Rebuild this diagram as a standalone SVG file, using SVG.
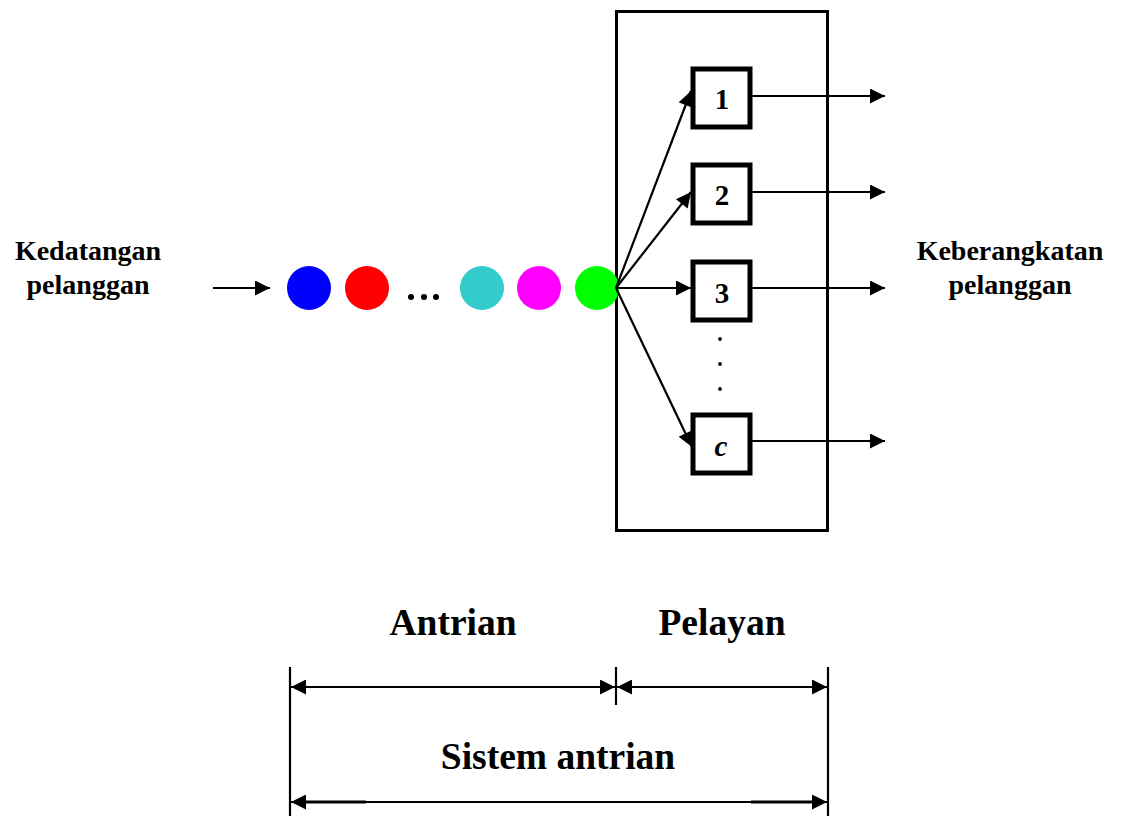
<svg xmlns="http://www.w3.org/2000/svg" width="1125" height="816" viewBox="0 0 1125 816">
<defs>
<marker id="ah" viewBox="0 0 10 10" refX="10" refY="5" markerWidth="17" markerHeight="15" markerUnits="userSpaceOnUse" orient="auto-start-reverse"><path d="M0,0 L10,5 L0,10 z" fill="#000"/></marker>
</defs>
<style>
.t{font-family:"Liberation Serif","Times New Roman",serif;font-weight:bold;fill:#000}
.lbl{font-size:28px}
.big{font-size:37.5px}
.num{font-size:29px}
.srv{fill:#fff;stroke:#000;stroke-width:5}
.ln{stroke:#000;stroke-width:2.2;fill:none}
</style>
<rect x="0" y="0" width="1125" height="816" fill="#fff"/>
<g id="system-box"><rect x="616.5" y="11.5" width="211" height="519" fill="none" stroke="#000" stroke-width="3"/></g>
<g id="arrival-label"><text class="t lbl" x="88" y="260" text-anchor="middle">Kedatangan</text><text class="t lbl" x="88" y="294" text-anchor="middle">pelanggan</text></g>
<g id="departure-label"><text class="t lbl" x="1010" y="260" text-anchor="middle">Keberangkatan</text><text class="t lbl" x="1010" y="294" text-anchor="middle">pelanggan</text></g>
<g id="queue">
<circle cx="309" cy="288" r="22" fill="#0000ff"/>
<circle cx="367" cy="288" r="22" fill="#ff0000"/>
<circle cx="411" cy="297" r="3" fill="#000"/><circle cx="424" cy="297" r="3" fill="#000"/><circle cx="436" cy="297" r="3" fill="#000"/>
<circle cx="482" cy="288" r="22" fill="#33cccc"/>
<circle cx="539" cy="288" r="22" fill="#ff00ff"/>
<circle cx="597" cy="288" r="22" fill="#00ff00"/>
</g>
<g id="connectors">
<line class="ln" x1="213" y1="288" x2="270" y2="288" stroke-width="3.2" marker-end="url(#ah)"/>
<line class="ln" x1="616" y1="288" x2="691" y2="91" marker-end="url(#ah)"/>
<line class="ln" x1="616" y1="288" x2="691" y2="192" marker-end="url(#ah)"/>
<line class="ln" x1="616" y1="288" x2="691" y2="288" marker-end="url(#ah)"/>
<line class="ln" x1="616" y1="288" x2="692" y2="447" marker-end="url(#ah)"/>
<line class="ln" x1="752" y1="96" x2="885" y2="96" marker-end="url(#ah)"/>
<line class="ln" x1="752" y1="192" x2="885" y2="192" marker-end="url(#ah)"/>
<line class="ln" x1="752" y1="288" x2="885" y2="288" marker-end="url(#ah)"/>
<line class="ln" x1="752" y1="441" x2="885" y2="441" marker-end="url(#ah)"/>
</g>
<g id="server-1"><rect class="srv" x="693" y="69" width="57" height="58"/><text class="t num" x="722" y="109" text-anchor="middle">1</text></g>
<g id="server-2"><rect class="srv" x="693" y="165" width="57" height="58"/><text class="t num" x="722" y="205" text-anchor="middle">2</text></g>
<g id="server-3"><rect class="srv" x="693" y="262" width="57" height="58"/><text class="t num" x="722" y="303" text-anchor="middle">3</text></g>
<g id="vdots"><circle cx="720" cy="339" r="1.9" fill="#000"/><circle cx="720" cy="364" r="1.9" fill="#000"/><circle cx="720" cy="389" r="1.9" fill="#000"/></g>
<g id="server-c"><rect class="srv" x="693" y="415" width="57" height="58"/><text class="t num" x="721" y="456" text-anchor="middle" font-style="italic">c</text></g>
<g id="dimensions">
<line class="ln" x1="290" y1="667" x2="290" y2="816"/>
<line class="ln" x1="616" y1="667" x2="616" y2="705"/>
<line class="ln" x1="828" y1="667" x2="828" y2="816"/>
<line class="ln" x1="291" y1="687" x2="615" y2="687" stroke-width="2.6" marker-start="url(#ah)" marker-end="url(#ah)"/>
<line class="ln" x1="617" y1="687" x2="827" y2="687" stroke-width="2.6" marker-start="url(#ah)" marker-end="url(#ah)"/>
<line class="ln" x1="291" y1="802" x2="827" y2="802" marker-start="url(#ah)" marker-end="url(#ah)"/>
<line x1="300" y1="802" x2="366" y2="802" stroke="#000" stroke-width="3"/>
<line x1="751" y1="802" x2="818" y2="802" stroke="#000" stroke-width="3"/>
<text class="t big" x="453" y="635" text-anchor="middle">Antrian</text>
<text class="t big" x="722" y="635" text-anchor="middle">Pelayan</text>
<text class="t big" x="558" y="769" text-anchor="middle">Sistem antrian</text>
</g>
</svg>
